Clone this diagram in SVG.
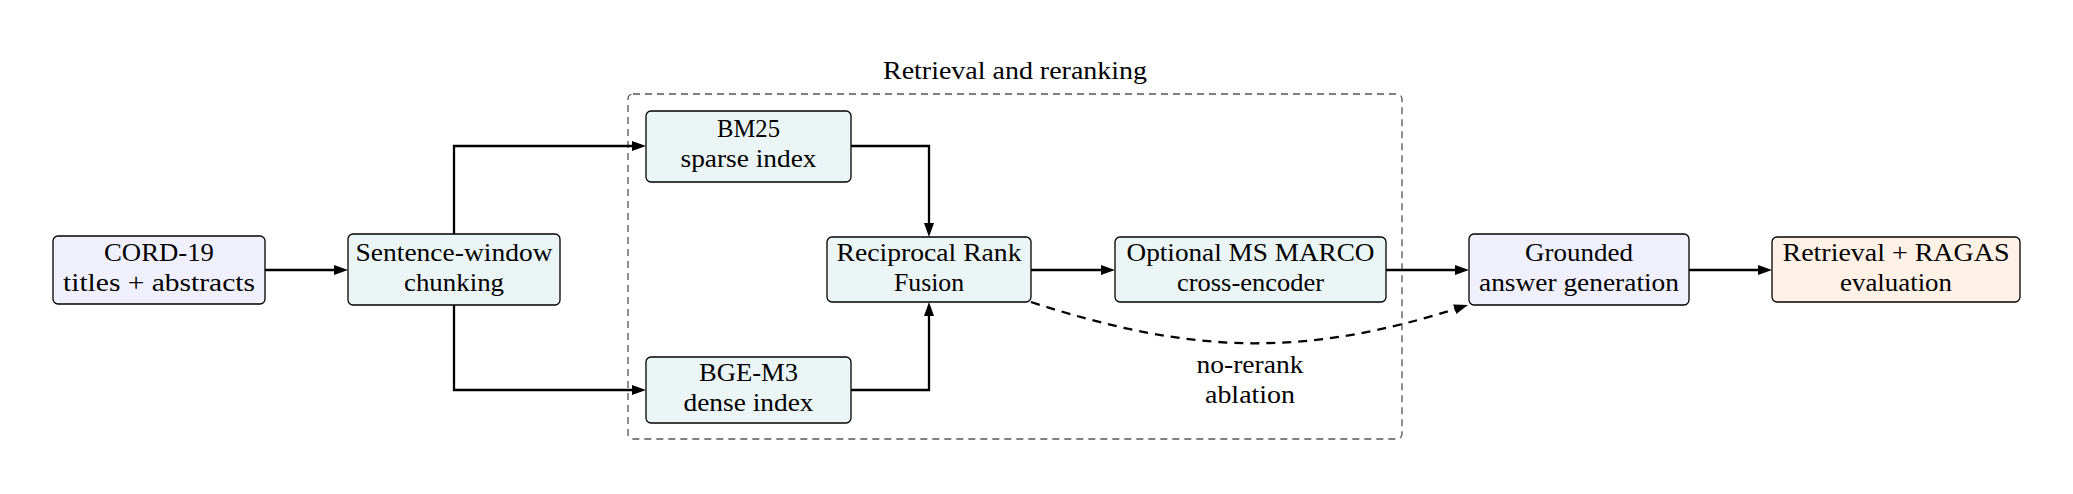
<svg xmlns="http://www.w3.org/2000/svg" width="2073" height="494" viewBox="0 0 2073 494">
<style>
.bg{fill:#ffffff}
.box{stroke:#000;stroke-width:1.3}
.lav{fill:#F0F0FD}
.teal{fill:#EBF5F5}
.org{fill:#FFF1E5}
.grp{fill:none;stroke:#555;stroke-width:1.3;stroke-dasharray:7,5}
.t{font-family:"Liberation Serif","Times New Roman",serif;font-size:25px;fill:#000;text-anchor:middle}
.c{fill:none;stroke:#000;stroke-width:2.3}
.dash{fill:none;stroke:#000;stroke-width:2.3;stroke-dasharray:9,7}
</style>
<defs>
<marker id="ah" markerUnits="userSpaceOnUse" markerWidth="15" markerHeight="11" refX="7" refY="5.5" orient="auto">
<path d="M0,0.5 L14,5.5 L0,10.5 z" fill="#000"/>
</marker>
<marker id="ah2" markerUnits="userSpaceOnUse" markerWidth="15" markerHeight="11" refX="14" refY="5.5" orient="auto">
<path d="M0,0.5 L14,5.5 L0,10.5 z" fill="#000"/>
</marker>
</defs>
<rect class="bg" x="0" y="0" width="2073" height="494"/>

<g id="group-retrieval">
<rect class="grp" x="628" y="94" width="774" height="345" rx="5"/>
<text class="t" x="1015" y="79" textLength="264" lengthAdjust="spacingAndGlyphs">Retrieval and reranking</text>
</g>

<g id="connectors">
<path class="c" d="M265,270 H341" marker-end="url(#ah)"/>
<path class="c" d="M454,234 V146 H639" marker-end="url(#ah)"/>
<path class="c" d="M454,305 V390 H639" marker-end="url(#ah)"/>
<path class="c" d="M851,146 H929 V230" marker-end="url(#ah)"/>
<path class="c" d="M851,390 H929 V309" marker-end="url(#ah)"/>
<path class="c" d="M1031,270 H1108" marker-end="url(#ah)"/>
<path class="c" d="M1386,270 H1462" marker-end="url(#ah)"/>
<path class="c" d="M1689,270 H1765" marker-end="url(#ah)"/>
<path class="dash" d="M1031,302 C1194,355 1306,358 1468,305" marker-end="url(#ah2)"/>
<text class="t" x="1250" y="373" textLength="107" lengthAdjust="spacingAndGlyphs">no-rerank</text>
<text class="t" x="1250" y="403" textLength="90" lengthAdjust="spacingAndGlyphs">ablation</text>
</g>

<g id="node-cord19">
<rect class="box lav" x="53" y="236" width="212" height="68" rx="5"/>
<text class="t" x="159" y="261" textLength="110" lengthAdjust="spacingAndGlyphs">CORD-19</text>
<text class="t" x="159" y="291" textLength="192" lengthAdjust="spacingAndGlyphs">titles + abstracts</text>
</g>

<g id="node-chunking">
<rect class="box teal" x="348" y="234" width="212" height="71" rx="5"/>
<text class="t" x="454" y="261" textLength="197" lengthAdjust="spacingAndGlyphs">Sentence-window</text>
<text class="t" x="454" y="291" textLength="100" lengthAdjust="spacingAndGlyphs">chunking</text>
</g>

<g id="node-bm25">
<rect class="box teal" x="646" y="111" width="205" height="71" rx="5"/>
<text class="t" x="748.5" y="137" textLength="63" lengthAdjust="spacingAndGlyphs">BM25</text>
<text class="t" x="748.5" y="167" textLength="136" lengthAdjust="spacingAndGlyphs">sparse index</text>
</g>

<g id="node-bge">
<rect class="box teal" x="646" y="357" width="205" height="66" rx="5"/>
<text class="t" x="748.5" y="381" textLength="99" lengthAdjust="spacingAndGlyphs">BGE-M3</text>
<text class="t" x="748.5" y="411" textLength="130" lengthAdjust="spacingAndGlyphs">dense index</text>
</g>

<g id="node-rrf">
<rect class="box teal" x="827" y="237" width="204" height="65" rx="5"/>
<text class="t" x="929" y="261" textLength="185" lengthAdjust="spacingAndGlyphs">Reciprocal Rank</text>
<text class="t" x="929" y="291" textLength="70" lengthAdjust="spacingAndGlyphs">Fusion</text>
</g>

<g id="node-rerank">
<rect class="box teal" x="1115" y="237" width="271" height="65" rx="5"/>
<text class="t" x="1250.5" y="261" textLength="248" lengthAdjust="spacingAndGlyphs">Optional MS MARCO</text>
<text class="t" x="1250.5" y="291" textLength="147" lengthAdjust="spacingAndGlyphs">cross-encoder</text>
</g>

<g id="node-generation">
<rect class="box lav" x="1469" y="234" width="220" height="71" rx="5"/>
<text class="t" x="1579" y="261" textLength="108" lengthAdjust="spacingAndGlyphs">Grounded</text>
<text class="t" x="1579" y="291" textLength="200" lengthAdjust="spacingAndGlyphs">answer generation</text>
</g>

<g id="node-evaluation">
<rect class="box org" x="1772" y="237" width="248" height="65" rx="5"/>
<text class="t" x="1896" y="261" textLength="227" lengthAdjust="spacingAndGlyphs">Retrieval + RAGAS</text>
<text class="t" x="1896" y="291" textLength="112" lengthAdjust="spacingAndGlyphs">evaluation</text>
</g>
</svg>
